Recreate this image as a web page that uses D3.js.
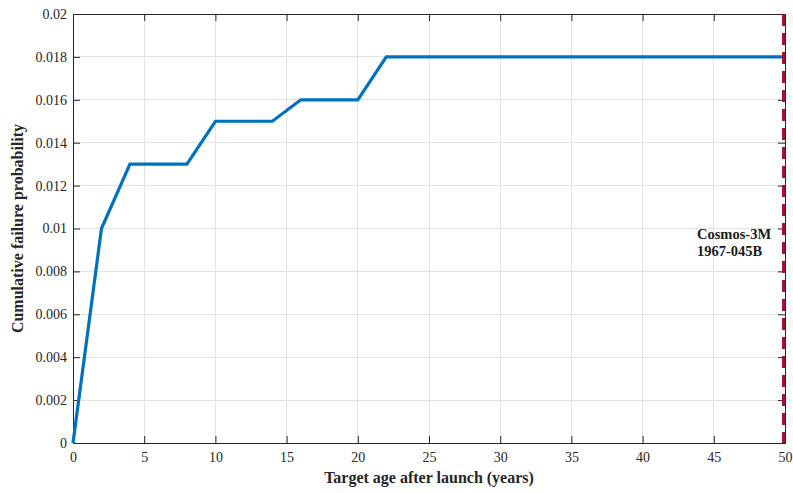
<!DOCTYPE html>
<html><head><meta charset="utf-8">
<script src="https://cdn.jsdelivr.net/npm/d3@7"></script>
<style>
body{margin:0;background:#fff;}
text{font-family:"Liberation Serif","Times New Roman",serif;}
</style></head><body>
<svg id="c" width="793" height="493"></svg>
<script>
const ageYears = [0, 2, 4, 8, 10, 14, 16, 20, 22, 50];
const failureProb = [0, 0.010, 0.013, 0.013, 0.015, 0.015, 0.016, 0.016, 0.018, 0.018];
const xTicks = [0,5,10,15,20,25,30,35,40,45,50];
const yTicks = [0,0.002,0.004,0.006,0.008,0.01,0.012,0.014,0.016,0.018,0.02];
const yTickLabels = ["0","0.002","0.004","0.006","0.008","0.01","0.012","0.014","0.016","0.018","0.02"];
const markerAge = 50;
const markerLabel = ["Cosmos-3M","1967-045B"];

const svg = d3.select("#c");
const L=73,R=785,T=14,B=443;
const x = d3.scaleLinear().domain([0,50]).range([L,R]);
const y = d3.scaleLinear().domain([0,0.02]).range([B,T]);

svg.append("defs").append("clipPath").attr("id","plotclip")
 .append("rect").attr("x",L).attr("y",T).attr("width",R-L).attr("height",B-T);

// grid
const g = svg.append("g");
g.selectAll(".gx").data(xTicks).enter().append("line")
 .attr("x1",d=>x(d)).attr("x2",d=>x(d)).attr("y1",T).attr("y2",B)
 .attr("stroke","#e3e3e3").attr("stroke-width",1).attr("shape-rendering","crispEdges");
g.selectAll(".gy").data(yTicks).enter().append("line")
 .attr("y1",d=>y(d)).attr("y2",d=>y(d)).attr("x1",L).attr("x2",R)
 .attr("stroke","#e3e3e3").attr("stroke-width",1).attr("shape-rendering","crispEdges");

// axes
const ax = svg.append("g").attr("transform",`translate(0,${B})`)
 .call(d3.axisBottom(x).tickValues(xTicks).tickSize(-7).tickPadding(12).tickFormat(d3.format("d")));
const axT = svg.append("g").attr("transform",`translate(0,${T})`)
 .call(d3.axisTop(x).tickValues(xTicks).tickSize(-7).tickFormat(""));
const ay = svg.append("g").attr("transform",`translate(${L},0)`)
 .call(d3.axisLeft(y).tickValues(yTicks).tickSize(-7).tickPadding(6).tickFormat((d,i)=>yTickLabels[i]));
const ayR = svg.append("g").attr("transform",`translate(${R},0)`)
 .call(d3.axisRight(y).tickValues(yTicks).tickSize(-7).tickFormat(""));
[ax,axT,ay,ayR].forEach(a=>{
  a.attr("font-family",null);
  a.selectAll("path").attr("stroke","#262626").attr("stroke-width",1);
  a.selectAll("line").attr("stroke","#262626").attr("stroke-width",1);
  a.selectAll("text").attr("fill","#262626").style("font-size","14px")
   .style("font-family","'Liberation Serif','Times New Roman',serif");
});
ax.selectAll("text").attr("dy","0.5em");

// data line
const line = d3.line().x((d,i)=>x(ageYears[i])).y((d,i)=>y(failureProb[i]));
svg.append("path").datum(failureProb).attr("d",line)
 .attr("fill","none").attr("stroke","#0072BD").attr("stroke-width",3.2).attr("stroke-linejoin","miter");

// marker line (clipped at plot edge)
svg.append("line").attr("clip-path","url(#plotclip)")
 .attr("x1",x(markerAge)).attr("x2",x(markerAge)).attr("y1",T).attr("y2",B)
 .attr("stroke","#A2142F").attr("stroke-width",6).attr("stroke-dasharray","12,7");

svg.append("text").attr("y",239).attr("text-anchor","start")
 .style("font-size","14.5px").style("font-weight","bold").attr("fill","#1a1a1a")
 .selectAll("tspan").data(markerLabel).enter().append("tspan")
 .attr("x",697).attr("dy",(d,i)=>i?17:0).text(d=>d);

// axis labels
svg.append("text").attr("x",(L+R)/2).attr("y",483).attr("text-anchor","middle")
 .style("font-size","16px").style("font-weight","bold").attr("fill","#262626")
 .text("Target age after launch (years)");
svg.append("text").attr("transform",`translate(23,${(T+B)/2}) rotate(-90)`).attr("text-anchor","middle")
 .style("font-size","16px").style("font-weight","bold").attr("fill","#262626")
 .text("Cumulative failure probability");
</script></body></html>
